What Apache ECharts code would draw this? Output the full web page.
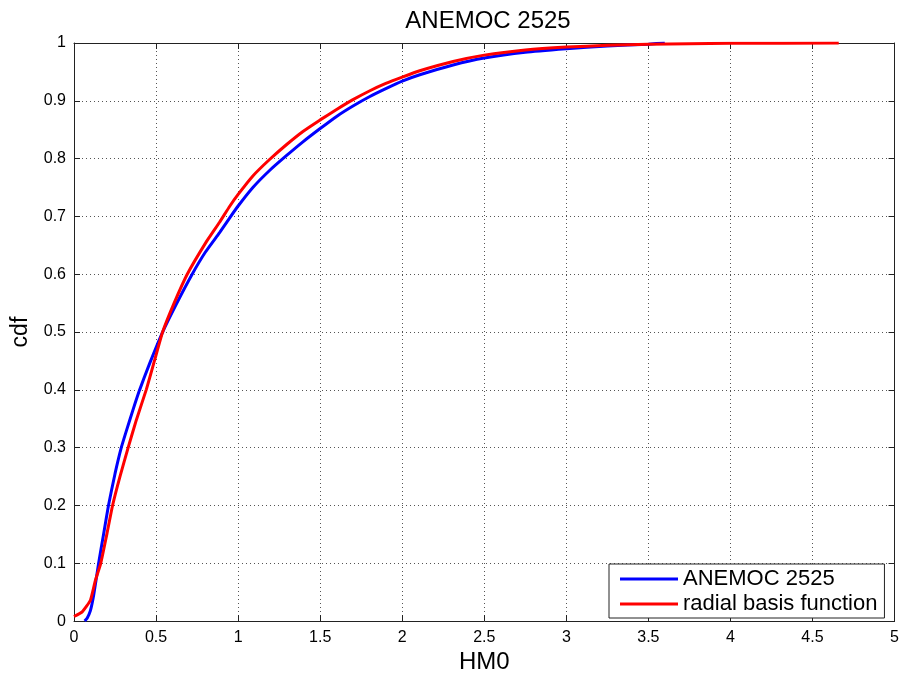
<!DOCTYPE html>
<html>
<head>
<meta charset="utf-8">
<script src="https://cdn.jsdelivr.net/npm/echarts@6/dist/echarts.min.js"></script>
<style>html,body{margin:0;padding:0;background:#fff}#c{width:902px;height:679px}</style>
</head>
<body>
<div id="c"></div>
<script>
var title = 'ANEMOC 2525';
var seriesNames = ['ANEMOC 2525', 'radial basis function'];
var xTicks = [0, 0.5, 1, 1.5, 2, 2.5, 3, 3.5, 4, 4.5, 5];
var yTicks = [0, 0.1, 0.2, 0.3, 0.4, 0.5, 0.6, 0.7, 0.8, 0.9, 1];
var anemocData = [[0.065,0],[0.08,0.005],[0.1,0.018],[0.12,0.045],[0.15,0.1],[0.18,0.15],[0.21,0.2],[0.25,0.255],[0.288,0.3],[0.32,0.33],[0.359,0.365],[0.40,0.40],[0.46,0.445],[0.54,0.5],[0.623,0.548],[0.72,0.6],[0.80,0.638],[0.887,0.672],[0.95,0.698],[1.0,0.718],[1.09,0.75],[1.19,0.779],[1.294,0.805],[1.395,0.829],[1.5,0.852],[1.6,0.873],[1.7,0.891],[1.8,0.907],[1.9,0.921],[2.0,0.934],[2.107,0.945],[2.31,0.962],[2.5,0.974],[2.75,0.984],[3.0,0.990],[3.25,0.995],[3.5,0.998],[3.6,1.0]];
var rbfData = [[0,0.008],[0.05,0.016],[0.1,0.036],[0.13,0.07],[0.163,0.1],[0.2,0.15],[0.235,0.2],[0.28,0.25],[0.33,0.3],[0.38,0.348],[0.44,0.4],[0.49,0.45],[0.54,0.5],[0.61,0.55],[0.69,0.6],[0.806,0.656],[0.887,0.69],[0.95,0.718],[1.0,0.738],[1.09,0.77],[1.19,0.798],[1.294,0.824],[1.395,0.847],[1.5,0.867],[1.6,0.885],[1.7,0.902],[1.8,0.917],[1.9,0.930],[2.0,0.941],[2.107,0.952],[2.31,0.968],[2.5,0.979],[2.75,0.988],[3.0,0.993],[3.25,0.996],[3.5,0.998],[4.0,0.9995],[4.66,1.0]];

var font = 'Liberation Sans, Arial, sans-serif';
var chart = echarts.init(document.getElementById('c'), null, {renderer: 'canvas'});
function fmtX(v){ return xTicks.indexOf(+v.toFixed(2)) >= 0 ? String(+v.toFixed(2)) : ''; }
function fmtY(v){ return yTicks.indexOf(+v.toFixed(2)) >= 0 ? String(+v.toFixed(2)) : ''; }
var axisCommon = {
  axisLine: {show: true, onZero: false, lineStyle: {color: '#222', width: 1}},
  axisTick: {show: true, inside: true, length: 6, lineStyle: {color: '#222'}},
  minorTick: {show: false}
};
chart.setOption({
  animation: false,
  backgroundColor: '#fff',
  title: {text: title, left: 483, top: 4, textAlign: 'center',
    textStyle: {fontFamily: font, fontSize: 24, fontWeight: 'normal', color: '#000'}},
  grid: {left: 74, right: 6, top: 43, bottom: 53, containLabel: false, show: false},
  legend: {
    orient: 'vertical', left: 609, top: 564,
    padding: [4, 7, 3, 11], itemGap: 3,
    backgroundColor: '#fff', borderColor: '#222', borderWidth: 1,
    icon: 'rect', itemWidth: 58, itemHeight: 3,
    textStyle: {fontFamily: font, fontSize: 22, color: '#000'},
    data: seriesNames
  },
  xAxis: [
    Object.assign({}, axisCommon, {
      type: 'value', min: 0, max: 5, interval: 0.5, position: 'bottom',
      name: 'HM0', nameLocation: 'middle', nameGap: 25,
      nameTextStyle: {fontFamily: font, fontSize: 24, color: '#000'},
      axisLabel: {fontFamily: font, fontSize: 16, color: '#000', margin: 8, formatter: fmtX},
      splitLine: {show: true, lineStyle: {color: '#555', type: [1, 3], width: 1}}
    }),
    Object.assign({}, axisCommon, {
      type: 'value', min: 0, max: 5, interval: 0.5, position: 'top',
      axisLabel: {show: false}, splitLine: {show: false}
    })
  ],
  yAxis: [
    Object.assign({}, axisCommon, {
      type: 'value', min: 0, max: 1, interval: 0.1, position: 'left',
      name: 'cdf', nameLocation: 'middle', nameGap: 42, nameRotate: 90,
      nameTextStyle: {fontFamily: font, fontSize: 23, color: '#000'},
      axisLabel: {fontFamily: font, fontSize: 16, color: '#000', margin: 8, formatter: fmtY},
      splitLine: {show: true, lineStyle: {color: '#555', type: [1, 3], width: 1}}
    }),
    Object.assign({}, axisCommon, {
      type: 'value', min: 0, max: 1, interval: 0.1, position: 'right',
      axisLabel: {show: false}, splitLine: {show: false}
    })
  ],
  series: [
    {name: seriesNames[0], type: 'line', data: anemocData, showSymbol: false, symbol: 'none',
     smooth: 0.15,
     itemStyle: {color: '#0000ff'}, lineStyle: {color: '#0000ff', width: 3}, z: 2},
    {name: seriesNames[1], type: 'line', data: rbfData, showSymbol: false, symbol: 'none',
     smooth: 0.15,
     itemStyle: {color: '#ff0000'}, lineStyle: {color: '#ff0000', width: 3}, z: 3}
  ]
});
</script>
</body>
</html>
